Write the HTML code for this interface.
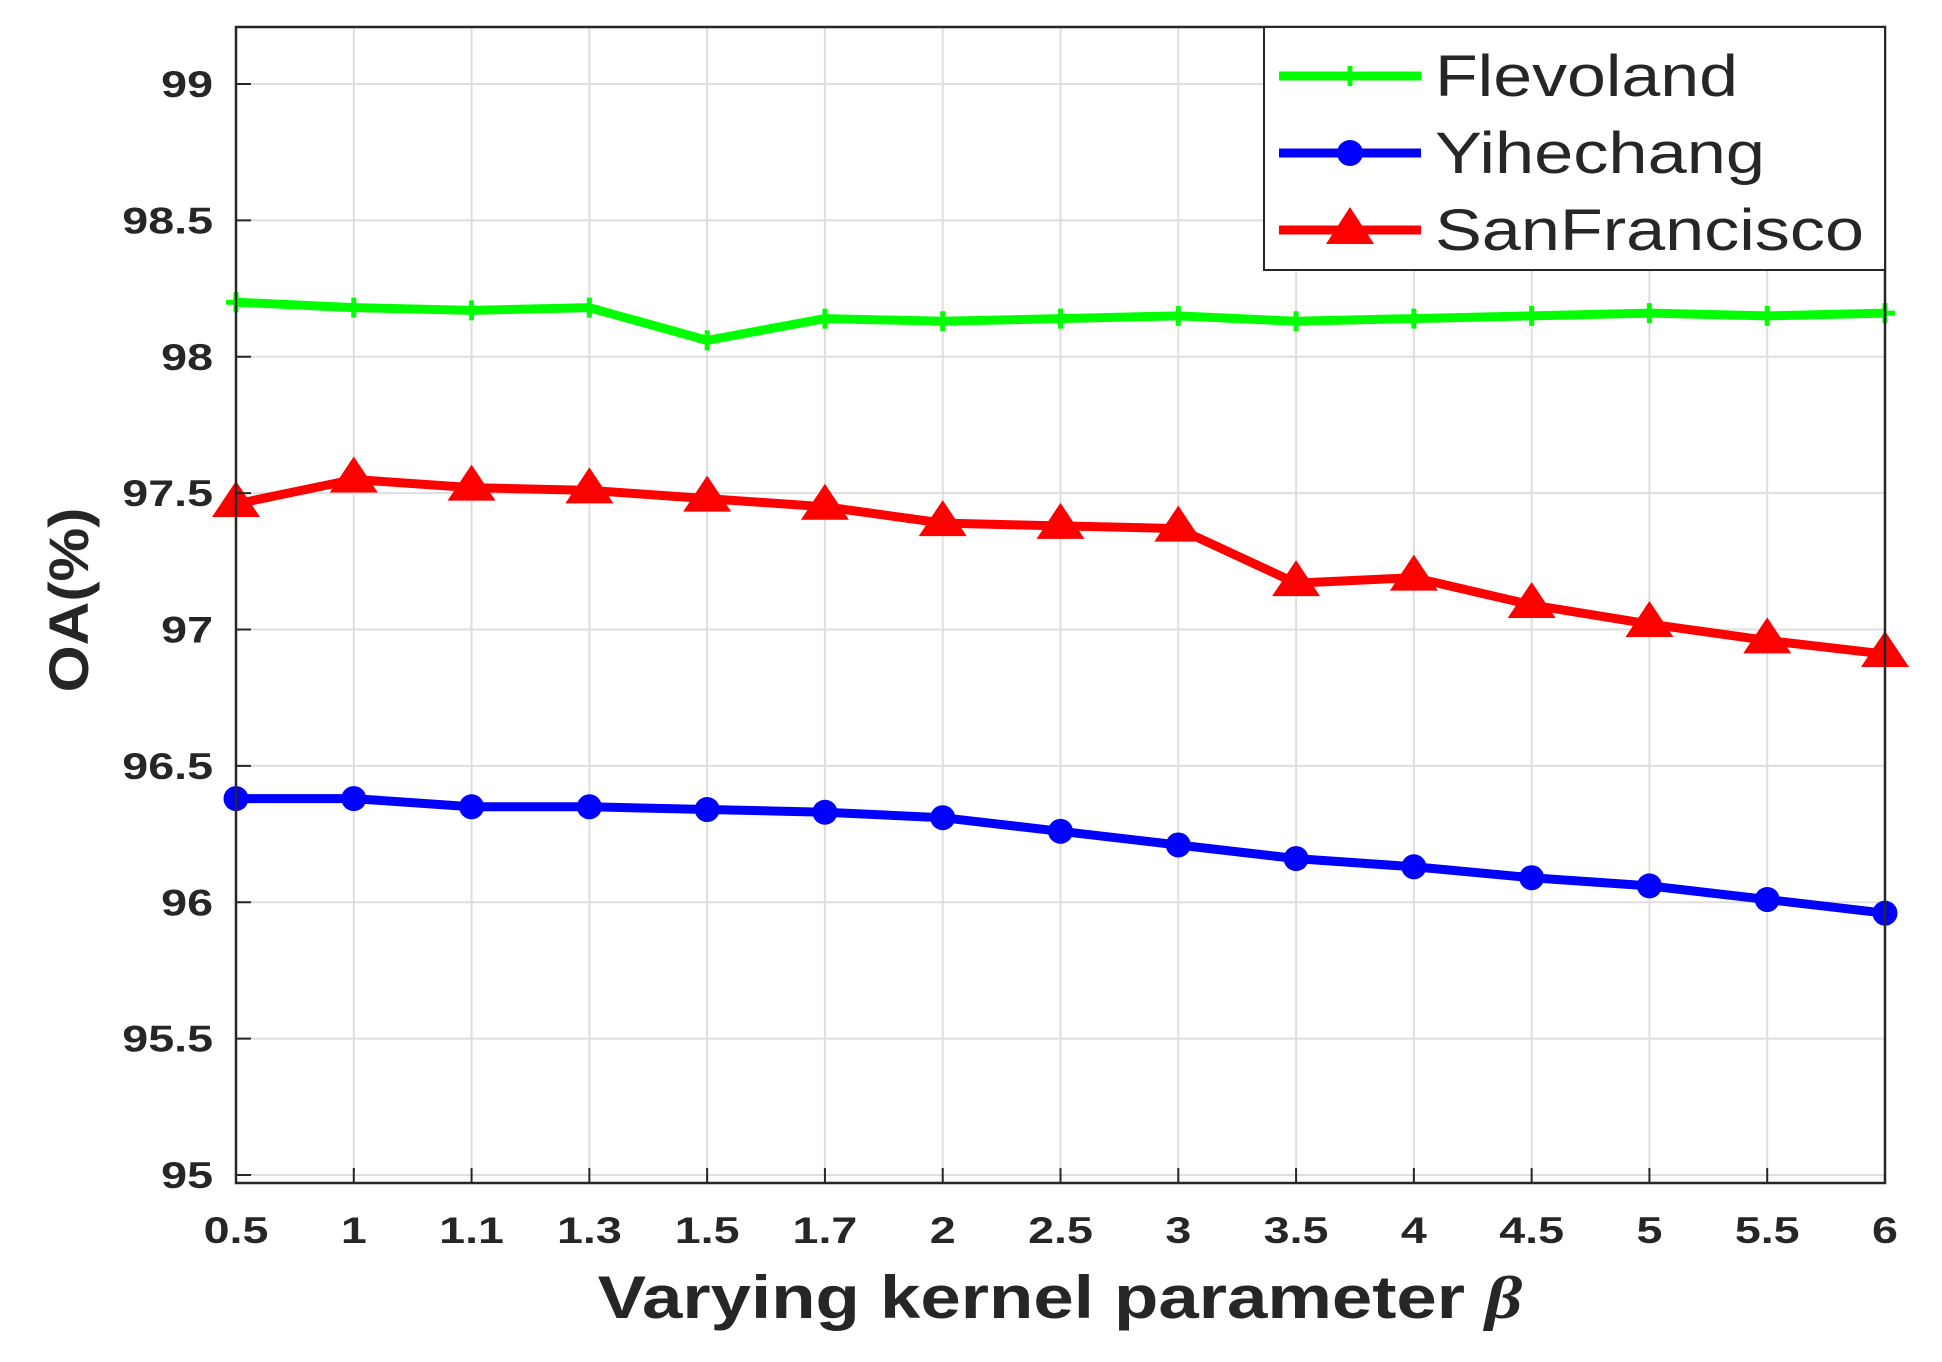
<!DOCTYPE html>
<html><head><meta charset="utf-8"><style>
html,body{margin:0;padding:0;background:#fff;}
svg text{font-family:"Liberation Sans",Arial,sans-serif;fill:#262626;}
</style></head><body>
<svg id="s" width="1942" height="1357" xmlns="http://www.w3.org/2000/svg">
<rect width="1942" height="1357" fill="#fff"/>
<g id="grid"></g>
<g id="data"></g>
<rect x="236" y="27" width="1649" height="1156" fill="none" stroke="#262626" stroke-width="2.5"/>
<g id="ticks"></g>
<text transform="translate(88,600) rotate(-90) scale(1.08,1)" text-anchor="middle" font-size="56" font-weight="bold">OA(%)</text>
<text transform="translate(1060,1318) scale(1.21,1)" text-anchor="middle" font-size="60" font-weight="bold">Varying kernel parameter <tspan font-family="Liberation Serif" font-style="italic">β</tspan></text>
<rect x="1264" y="27" width="621" height="243" fill="#fff" stroke="#262626" stroke-width="2"/>
<line x1="1279" y1="76" x2="1421" y2="76" stroke="#00ff00" stroke-width="9"/>
<path d="M1350 66v20M1340 76h20" stroke="#00ff00" stroke-width="5"/>
<text x="1435" y="96" font-size="58" textLength="303" lengthAdjust="spacingAndGlyphs">Flevoland</text>
<line x1="1279" y1="153" x2="1421" y2="153" stroke="#0000ff" stroke-width="9"/>
<circle cx="1350" cy="153" r="13" fill="#0000ff"/>
<text x="1435" y="173" font-size="58" textLength="330" lengthAdjust="spacingAndGlyphs">Yihechang</text>
<line x1="1279" y1="230" x2="1421" y2="230" stroke="#ff0000" stroke-width="9"/>
<polygon points="1350,207 1374,244 1326,244" fill="#ff0000"/>
<text x="1435" y="250" font-size="58" textLength="429" lengthAdjust="spacingAndGlyphs">SanFrancisco</text>
</svg>
<script>
var X=["0.5","1","1.1","1.3","1.5","1.7","2","2.5","3","3.5","4","4.5","5","5.5","6"];
function xp(i){return 236+i*1649/14;}
function yp(v){return 84+(99-v)*272.75;}
var g="",t="";
for(var i=0;i<15;i++){var x=xp(i);g+='<line x1="'+x+'" y1="27" x2="'+x+'" y2="1183" stroke="#dedede" stroke-width="2"/>';
t+='<line x1="'+x+'" y1="1183" x2="'+x+'" y2="1168" stroke="#262626" stroke-width="2"/><text transform="translate('+x+',1243) scale(1.26,1)" text-anchor="middle" font-size="37" font-weight="bold">'+X[i]+'</text>';}
var yl=["95","95.5","96","96.5","97","97.5","98","98.5","99"];
for(var k=0;k<9;k++){var v=95+k*0.5,y=yp(v);g+='<line x1="236" y1="'+y+'" x2="1885" y2="'+y+'" stroke="#dedede" stroke-width="2"/>';
t+='<line x1="236" y1="'+y+'" x2="251" y2="'+y+'" stroke="#262626" stroke-width="2"/><text transform="translate(213,'+(y+13)+') scale(1.26,1)" text-anchor="end" font-size="37" font-weight="bold">'+yl[k]+'</text>';}
var G=[98.2,98.18,98.17,98.18,98.06,98.14,98.13,98.14,98.15,98.13,98.14,98.15,98.16,98.15,98.16];
var R=[97.46,97.55,97.52,97.51,97.48,97.45,97.39,97.38,97.37,97.17,97.19,97.09,97.02,96.96,96.91];
var B=[96.38,96.38,96.35,96.35,96.34,96.33,96.31,96.26,96.21,96.16,96.13,96.09,96.06,96.01,95.96];
function pl(a,c){var p=a.map(function(v,i){return xp(i)+','+yp(v)}).join(' ');return '<polyline points="'+p+'" fill="none" stroke="'+c+'" stroke-width="9" stroke-linejoin="round"/>';}
var d=pl(G,"#00ff00")+pl(B,"#0000ff")+pl(R,"#ff0000");
for(var i=0;i<15;i++){var x=xp(i);
d+='<path d="M'+x+' '+(yp(G[i])-10)+'v20M'+(x-10)+' '+yp(G[i])+'h20" stroke="#00ff00" stroke-width="5"/>';
d+='<circle cx="'+x+'" cy="'+yp(B[i])+'" r="12.5" fill="#0000ff"/>';
var y=yp(R[i]);d+='<polygon points="'+x+','+(y-23)+' '+(x+24)+','+(y+13)+' '+(x-24)+','+(y+13)+'" fill="#ff0000"/>';}
document.getElementById("grid").innerHTML=g;
document.getElementById("ticks").innerHTML=t;
document.getElementById("data").innerHTML=d;
</script>
</body></html>
